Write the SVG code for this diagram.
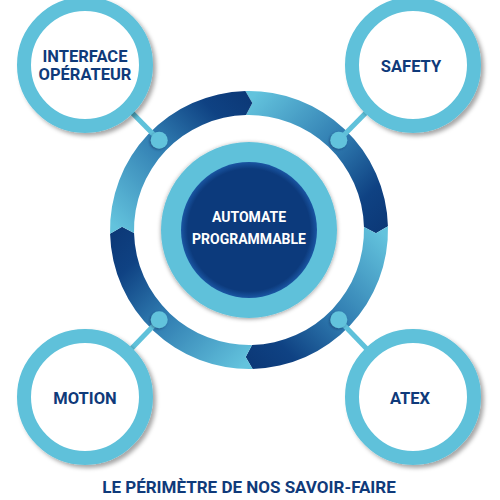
<svg xmlns="http://www.w3.org/2000/svg" width="500" height="500" viewBox="0 0 500 500">
<defs>
<style>
.lbl{font-family:Roboto,"Liberation Sans",sans-serif;font-weight:bold;fill:#0f3a7a;text-anchor:middle;font-size:16.5px}
.ctr{font-family:Roboto,"Liberation Sans",sans-serif;font-weight:bold;fill:#ffffff;text-anchor:middle;font-size:14px}
.title{font-family:Roboto,"Liberation Sans",sans-serif;font-weight:bold;fill:#0f3a7a;text-anchor:middle;font-size:17px}
.ring{fill:#ffffff;stroke:#5fc1da;stroke-width:14;filter:url(#sh)}
.conn{stroke:#5fc1da;stroke-width:5}
.dot{fill:#62c3dc;filter:url(#sh2)}
</style>
<filter id="sh" x="-20%" y="-20%" width="140%" height="140%"><feDropShadow dx="3" dy="3" stdDeviation="2" flood-color="#000" flood-opacity="0.35"/></filter>
<filter id="sh2" x="-50%" y="-50%" width="200%" height="200%"><feDropShadow dx="-1" dy="1" stdDeviation="1" flood-color="#0a2a5a" flood-opacity="0.5"/></filter>
<filter id="sh3" x="-20%" y="-20%" width="140%" height="140%"><feDropShadow dx="0" dy="1" stdDeviation="2" flood-color="#000" flood-opacity="0.4"/></filter>
<linearGradient id="gA" gradientUnits="userSpaceOnUse" x1="249" y1="100" x2="380" y2="230"><stop offset="0" stop-color="#63c3dd"/><stop offset="0.5" stop-color="#2f7bb0"/><stop offset="0.82" stop-color="#0f4283"/><stop offset="1" stop-color="#0c3978"/></linearGradient>
<linearGradient id="gB" gradientUnits="userSpaceOnUse" x1="380" y1="230" x2="249" y2="360"><stop offset="0" stop-color="#63c3dd"/><stop offset="0.5" stop-color="#2f7bb0"/><stop offset="0.82" stop-color="#0f4283"/><stop offset="1" stop-color="#0c3978"/></linearGradient>
<linearGradient id="gC" gradientUnits="userSpaceOnUse" x1="249" y1="360" x2="118" y2="230"><stop offset="0" stop-color="#63c3dd"/><stop offset="0.5" stop-color="#2f7bb0"/><stop offset="0.82" stop-color="#0f4283"/><stop offset="1" stop-color="#0c3978"/></linearGradient>
<linearGradient id="gD" gradientUnits="userSpaceOnUse" x1="118" y1="230" x2="249" y2="100"><stop offset="0" stop-color="#63c3dd"/><stop offset="0.5" stop-color="#2f7bb0"/><stop offset="0.82" stop-color="#0f4283"/><stop offset="1" stop-color="#0c3978"/></linearGradient>
<radialGradient id="gCenter" cx="0.5" cy="0.5" r="0.5"><stop offset="0.9" stop-color="#0c3a7c"/><stop offset="1" stop-color="#1a56a3"/></radialGradient>
</defs>
<rect width="500" height="500" fill="#ffffff"/>
<g id="cycle">
<path fill="url(#gA)" d="M245.36 91.05 A139 139 0 0 1 387.95 226.36 L375.96 233.32 L363.96 226.99 A115 115 0 0 0 245.99 115.04 L252.32 103.04 Z"/>
<path fill="url(#gB)" d="M387.95 226.36 A139 139 0 0 1 252.64 368.95 L245.68 356.96 L252.01 344.96 A115 115 0 0 0 363.96 226.99 L375.96 233.32 Z"/>
<path fill="url(#gC)" d="M252.64 368.95 A139 139 0 0 1 110.05 233.64 L122.04 226.68 L134.04 233.01 A115 115 0 0 0 252.01 344.96 L245.68 356.96 Z"/>
<path fill="url(#gD)" d="M110.05 233.64 A139 139 0 0 1 245.36 91.05 L252.32 103.04 L245.99 115.04 A115 115 0 0 0 134.04 233.01 L122.04 226.68 Z"/>
</g>
<g id="connectors">
<line class="conn" x1="159.2" y1="140.2" x2="85" y2="65"/>
<line class="conn" x1="338.8" y1="140.2" x2="413" y2="65"/>
<line class="conn" x1="159.2" y1="319.8" x2="85" y2="397"/>
<line class="conn" x1="338.8" y1="319.8" x2="413" y2="397"/>
<circle class="dot" cx="159.2" cy="140.2" r="8.5"/>
<circle class="dot" cx="338.8" cy="140.2" r="8.5"/>
<circle class="dot" cx="159.2" cy="319.8" r="8.5"/>
<circle class="dot" cx="338.8" cy="319.8" r="8.5"/>
</g>
<g id="center">
<circle cx="249" cy="230" r="88" fill="#5fc1da" filter="url(#sh3)"/>
<circle cx="249" cy="230" r="68" fill="url(#gCenter)"/>
<text class="ctr" x="249" y="222">AUTOMATE</text>
<text class="ctr" x="249" y="244">PROGRAMMABLE</text>
</g>
<g id="interface">
<circle class="ring" cx="85" cy="65" r="61"/>
<text class="lbl" x="85" y="62">INTERFACE</text>
<text class="lbl" x="85" y="80">OPÉRATEUR</text>
</g>
<g id="safety">
<circle class="ring" cx="413" cy="65" r="61"/>
<text class="lbl" x="411" y="72">SAFETY</text>
</g>
<g id="motion">
<circle class="ring" cx="85" cy="397" r="61"/>
<text class="lbl" x="85" y="404">MOTION</text>
</g>
<g id="atex">
<circle class="ring" cx="413" cy="397" r="61"/>
<text class="lbl" x="410" y="404">ATEX</text>
</g>
<text class="title" x="249" y="493">LE PÉRIMÈTRE DE NOS SAVOIR-FAIRE</text>
</svg>
